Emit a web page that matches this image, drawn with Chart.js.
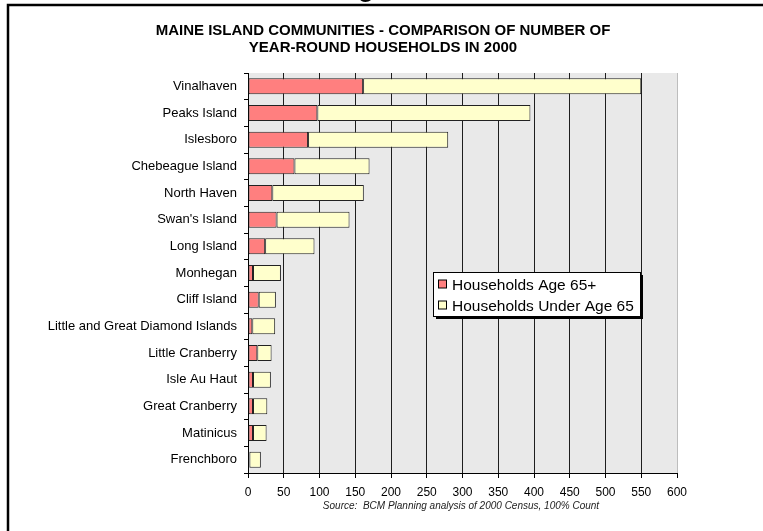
<!DOCTYPE html>
<html>
<head>
<meta charset="utf-8">
<script src="https://cdn.jsdelivr.net/npm/chart.js@4/dist/chart.umd.min.js"></script>
<style>
  html, body { margin: 0; padding: 0; background: #fff; }
  #chart { display: block; }
</style>
</head>
<body>
<canvas id="chart" width="763" height="531"></canvas>
<script>
// island names, top to bottom
const islands = [
  "Vinalhaven", "Peaks Island", "Islesboro", "Chebeague Island", "North Haven",
  "Swan's Island", "Long Island", "Monhegan", "Cliff Island",
  "Little and Great Diamond Islands", "Little Cranberry", "Isle Au Haut",
  "Great Cranberry", "Matinicus", "Frenchboro"
];
// households age 65+
const age65Plus = [161, 97, 84, 65, 34, 40, 24, 7, 15, 6, 13, 7, 7, 7, 2];
// households under age 65
const under65 = [389, 298, 196, 105, 128, 102, 69, 39, 24, 32, 20, 25, 20, 19, 16];

const seriesNames = ["Households Age 65+", "Households Under Age 65"];
const titleLines = [
  "MAINE ISLAND COMMUNITIES - COMPARISON OF NUMBER OF",
  "YEAR-ROUND HOUSEHOLDS IN 2000"
];
const sourceNote = "Source:  BCM Planning analysis of 2000 Census, 100% Count";
const xMin = 0, xMax = 600, xStep = 50;

const FONT = "'Liberation Sans', Arial, sans-serif";

// frame, title and source note
const decorPlugin = {
  id: "decor",
  beforeDraw(chart) {
    const c = chart.ctx, a = chart.chartArea;
    c.save();
    c.fillStyle = "#fff";
    c.fillRect(0, 0, chart.width, chart.height);
    // plot background
    c.fillStyle = "#e9e9e9";
    c.fillRect(a.left, a.top, a.right - a.left, a.bottom - a.top);
    c.restore();
  },
  afterDraw(chart) {
    const c = chart.ctx;
    c.save();
    // outer frame (top and left only)
    c.strokeStyle = "#000";
    c.lineWidth = 2.5;
    c.beginPath();
    c.moveTo(8, chart.height);
    c.lineTo(8, 5);
    c.lineTo(chart.width, 5);
    c.stroke();
    // clipped heading glyph above frame
    c.fillStyle = "#000";
    c.font = "bold 26px " + FONT;
    c.textAlign = "center";
    c.textBaseline = "alphabetic";
    c.fillText("g", 366, -3);
    // title
    c.font = "bold 15px " + FONT;
    c.textBaseline = "middle";
    c.fillText(titleLines[0], 383, 31);
    c.fillText(titleLines[1], 383, 48);
    // source
    c.font = "italic 10px " + FONT;
    c.fillStyle = "#222";
    c.fillText(sourceNote, 461, 506);
    c.restore();
  }
};

// legend box inside the plot
const legendPlugin = {
  id: "boxLegend",
  afterDatasetsDraw(chart) {
    const c = chart.ctx;
    const x = 433, y = 272, w = 207, h = 44;
    c.save();
    c.fillStyle = "#000";
    c.fillRect(x + 3, y + 3, w, h);
    c.fillStyle = "#fff";
    c.fillRect(x, y, w, h);
    c.strokeStyle = "#000";
    c.lineWidth = 1;
    c.strokeRect(x + 0.5, y + 0.5, w, h);
    c.font = "15.5px " + FONT;
    c.textBaseline = "middle";
    c.textAlign = "left";
    chart.data.datasets.forEach((ds, i) => {
      const cy = y + 12.5 + i * 21;
      c.fillStyle = ds.backgroundColor;
      c.fillRect(x + 5.5, cy - 4.5, 8, 8);
      c.strokeStyle = "#000";
      c.strokeRect(x + 5.5, cy - 4.5, 8, 8);
      c.fillStyle = "#000";
      c.fillText(ds.label, x + 19, cy + 1);
    });
    c.restore();
  }
};

new Chart(document.getElementById("chart"), {
  type: "bar",
  data: {
    labels: islands,
    datasets: [
      {
        label: seriesNames[0],
        data: age65Plus,
        backgroundColor: "#ff7f7f",
        borderColor: "#222",
        borderWidth: 1,
        borderSkipped: false,
        barPercentage: 0.6,
        categoryPercentage: 1
      },
      {
        label: seriesNames[1],
        data: under65,
        backgroundColor: "#ffffcc",
        borderColor: "#222",
        borderWidth: 1,
        borderSkipped: false,
        barPercentage: 0.6,
        categoryPercentage: 1
      }
    ]
  },
  options: {
    indexAxis: "y",
    responsive: false,
    animation: false,
    layout: { padding: { left: 0, right: 86, top: 73, bottom: 0 } },
    plugins: {
      legend: { display: false },
      title: { display: false },
      tooltip: { enabled: false }
    },
    scales: {
      x: {
        stacked: true,
        min: xMin,
        max: xMax,
        afterFit(scale) { scale.height = 58; },
        ticks: {
          stepSize: xStep,
          color: "#000",
          padding: 7,
          maxRotation: 0,
          autoSkip: false,
          font: { family: FONT, size: 12 }
        },
        grid: {
          color: (ctx) => ctx.tick && ctx.tick.value === xMax ? "#bdbdbd" : "#1e1e1e",
          tickColor: "#000",
          tickLength: 5,
          lineWidth: 1
        },
        border: { color: "#000", width: 1 }
      },
      y: {
        stacked: true,
        afterFit(scale) { scale.width = 248; },
        ticks: {
          color: "#000",
          padding: 7,
          autoSkip: false,
          font: { family: FONT, size: 13 }
        },
        grid: {
          offset: true,
          drawOnChartArea: false,
          drawTicks: true,
          tickLength: 4,
          tickColor: "#000"
        },
        border: { color: "#000", width: 1 }
      }
    }
  },
  plugins: [decorPlugin, legendPlugin]
});
</script>
</body>
</html>
